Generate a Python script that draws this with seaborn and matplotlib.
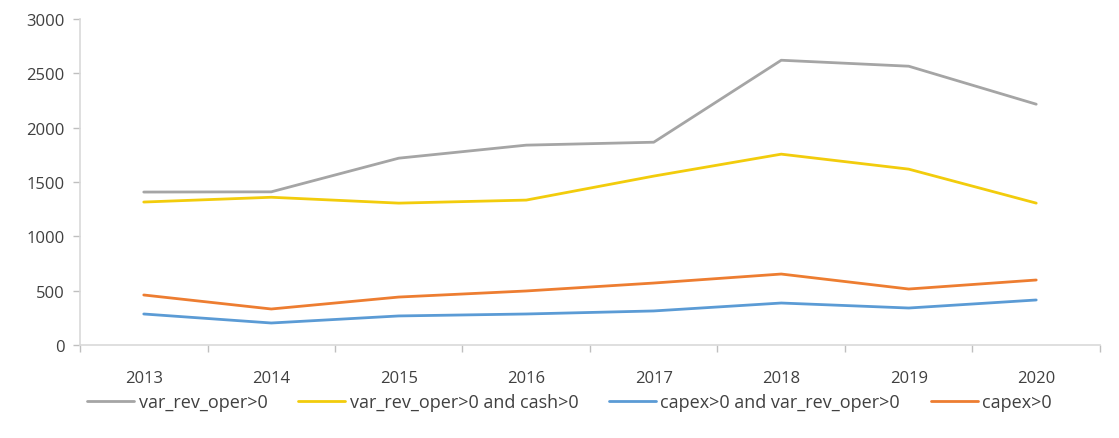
import matplotlib
matplotlib.use("Agg")
import matplotlib.pyplot as plt
import seaborn as sns
import pandas as pd
import numpy as np

years = [2013, 2014, 2015, 2016, 2017, 2018, 2019, 2020]
var_rev_oper = [1408, 1410, 1720, 1840, 1867, 2622, 2567, 2217]
var_rev_oper_cash = [1316, 1360, 1306, 1334, 1555, 1757, 1619, 1306]
capex_var_rev = [285, 202, 267, 285, 313, 386, 340, 414]
capex = [460, 331, 441, 497, 570, 653, 515, 598]

names = ["var_rev_oper>0", "var_rev_oper>0 and cash>0",
         "capex>0 and var_rev_oper>0", "capex>0"]
colors = ["#A5A5A5", "#F2CC0C", "#5B9BD5", "#ED7D31"]

df = pd.concat([
    pd.DataFrame({"year": years, "value": v, "series": n})
    for v, n in zip([var_rev_oper, var_rev_oper_cash, capex_var_rev, capex], names)
])

sns.set_theme(style="white")
plt.rcParams["font.family"] = ["Open Sans", "DejaVu Sans"]

fig = plt.figure(figsize=(11.19, 4.39), dpi=100)
ax = fig.add_axes([0.0715, 0.212, 0.9115, 0.742])
sns.lineplot(data=df, x="year", y="value", hue="series", hue_order=names,
             palette=colors, linewidth=2.0, ax=ax, legend=True)

ax.set_xlim(2012.5, 2020.5)
ax.set_ylim(0, 3000)
ax.set_yticks(np.arange(0, 3001, 500))
ax.set_xticks(years)
ax.set_xticks(np.arange(2012.5, 2020.6, 1), minor=True)
ax.tick_params(axis="x", which="major", length=0, pad=18, labelsize=12, colors="#404040")
ax.tick_params(axis="x", which="minor", length=5, width=1, color="#BFBFBF", direction="out", bottom=True)
ax.tick_params(axis="y", length=5, width=1, color="#BFBFBF", left=True, labelsize=12, colors="#404040", pad=6)
ax.set_xlabel("")
ax.set_ylabel("")
for s in ["top", "right"]:
    ax.spines[s].set_visible(False)
for s in ["left", "bottom"]:
    ax.spines[s].set_color("#D9D9D9")
    ax.spines[s].set_linewidth(1.2)

handles, labels = ax.get_legend_handles_labels()
ax.legend(handles, labels, loc="center", bbox_to_anchor=(0.48, -0.175), ncol=4,
          frameon=False, fontsize=13, handlelength=2.6, columnspacing=1.7,
          handletextpad=0.25, labelcolor="#404040")

fig.savefig("out.png", dpi=100)
